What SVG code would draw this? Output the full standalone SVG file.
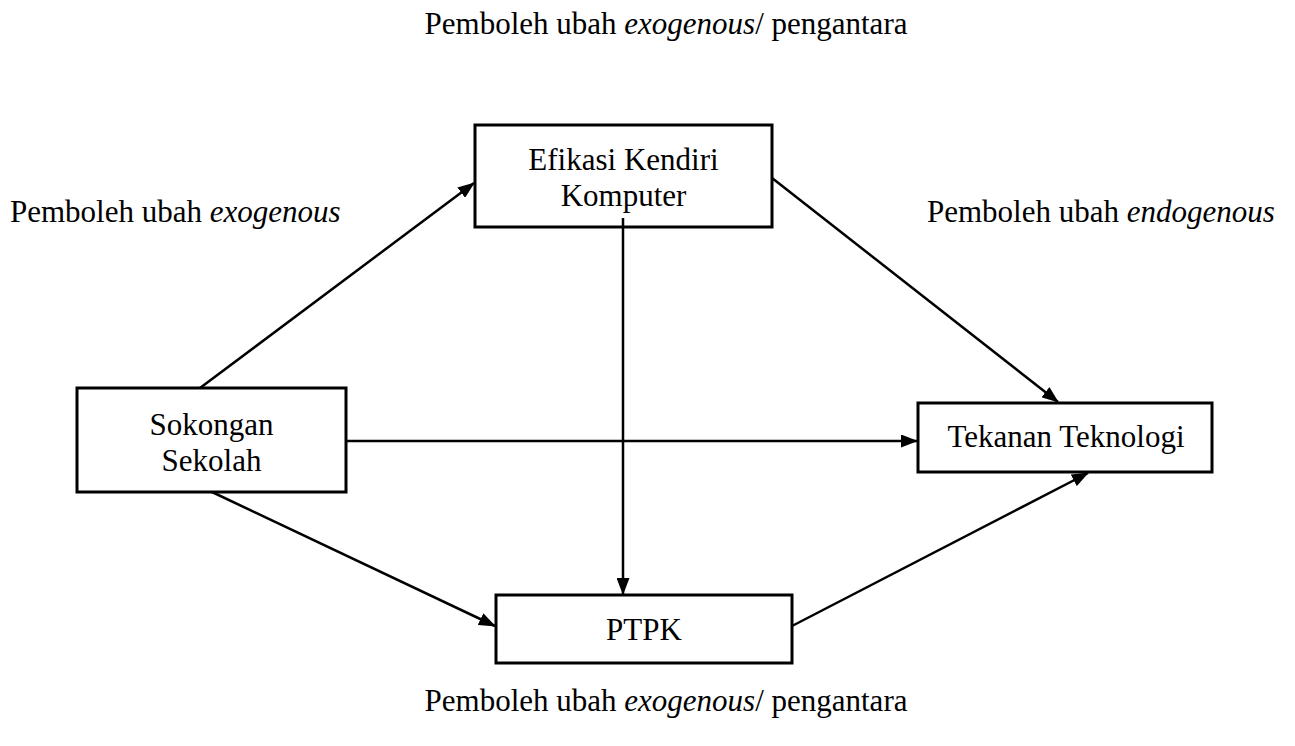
<svg xmlns="http://www.w3.org/2000/svg" width="1295" height="746" viewBox="0 0 1295 746">
<style>
text{font-family:"Liberation Serif","Times New Roman",serif;font-size:31px;fill:#000}
.box{fill:#fff;stroke:#000;stroke-width:3}
.c{text-anchor:middle}
.edge{stroke:#000;stroke-width:2.5;fill:none;marker-end:url(#ah)}
</style>
<defs>
<marker id="ah" viewBox="0 0 17 13" refX="16" refY="6.5" markerWidth="17" markerHeight="13" markerUnits="userSpaceOnUse" orient="auto">
<path d="M0,0 L17,6.5 L0,13 Z" fill="#000"/>
</marker>
</defs>
<g id="labels">
<text x="666" y="34" class="c">Pemboleh ubah <tspan font-style="italic">exogenous</tspan>/ pengantara</text>
<text x="10" y="222">Pemboleh ubah <tspan font-style="italic">exogenous</tspan></text>
<text x="927" y="222">Pemboleh ubah <tspan font-style="italic">endogenous</tspan></text>
<text x="666" y="711" class="c">Pemboleh ubah <tspan font-style="italic">exogenous</tspan>/ pengantara</text>
</g>
<g id="node-efikasi">
<rect class="box" x="475" y="125" width="297" height="102"/>
<text x="623.5" y="170" class="c">Efikasi Kendiri</text>
<text x="623.5" y="206" class="c">Komputer</text>
</g>
<g id="node-sokongan">
<rect class="box" x="77" y="388" width="269" height="104"/>
<text x="211.5" y="435" class="c">Sokongan</text>
<text x="211.5" y="471" class="c">Sekolah</text>
</g>
<g id="node-tekanan">
<rect class="box" x="918" y="403" width="294" height="69"/>
<text x="1066" y="447" class="c">Tekanan Teknologi</text>
</g>
<g id="node-ptpk">
<rect class="box" x="496" y="595" width="296" height="68"/>
<text x="644" y="640" class="c">PTPK</text>
</g>
<g id="connectors">
<line class="edge" x1="200" y1="388" x2="474" y2="183"/>
<line class="edge" x1="623" y1="218" x2="623" y2="594"/>
<line class="edge" x1="772" y1="178" x2="1058" y2="402"/>
<line class="edge" x1="346" y1="441" x2="917" y2="441"/>
<line class="edge" x1="212" y1="492" x2="495" y2="626"/>
<line class="edge" x1="792" y1="626" x2="1088" y2="473"/>
</g>
</svg>
